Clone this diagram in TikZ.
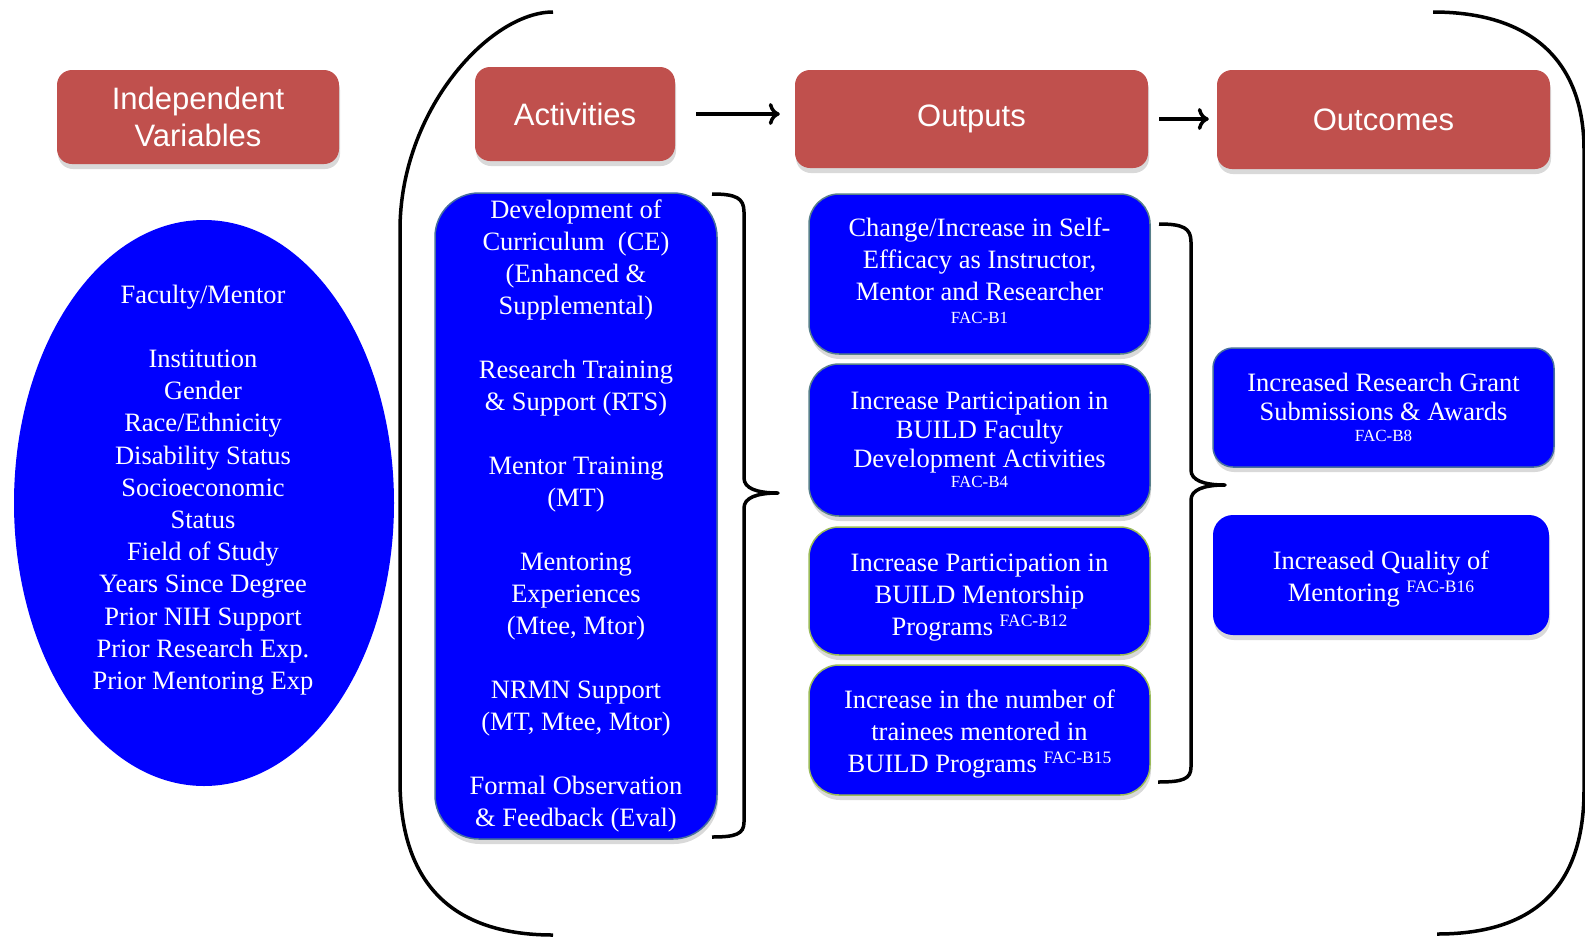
\documentclass[tikz,border=0pt]{standalone}
\usepackage{fontspec}
\setmainfont{Liberation Serif}
\newfontfamily\headfont{Liberation Sans}
\usepackage{xcolor}
\usepackage{tikz}
\usetikzlibrary{arrows,arrows.meta,shapes.geometric,shadows}

\definecolor{headred}{RGB}{192,80,77}
\definecolor{boxblue}{RGB}{0,0,255}
\definecolor{steeledge}{RGB}{72,112,158}
\definecolor{tealedge}{RGB}{88,128,138}
\definecolor{olivedge}{RGB}{155,187,89}

\newcommand{\facsup}[1]{\smash{\raisebox{9pt}{\fontsize{17.5}{17}\selectfont #1}}}
\newcommand{\facline}[1]{{\fontsize{17}{17}\selectfont #1}}
\newcommand{\padtop}[1]{\rule{0pt}{#1}}

\begin{document}
\begin{tikzpicture}[x=1pt,y=-1pt,
    head/.style={fill=headred, rounded corners=15pt, text=white, inner sep=0pt, align=center,
        font=\headfont\fontsize{31}{37}\selectfont,
        drop shadow={opacity=0.3, shadow xshift=1pt, shadow yshift=-5pt}},
    box/.style={fill=boxblue, line width=1.5pt, rounded corners=30pt, text=white, inner sep=0pt, align=center,
        font=\fontsize{26.5}{32}\selectfont,
        drop shadow={opacity=0.3, shadow xshift=1pt, shadow yshift=-5pt}},
    ivell/.style={ellipse, fill=boxblue, inner sep=0pt},
    arr/.style={-{To[length=11pt,width=22pt]}, line width=3.5pt},
    paren/.style={line width=3.5pt},
    brace/.style={line width=3.5pt, line join=round}
]
    \useasboundingbox (0,0) rectangle (1585,938);

    % header row
    \node[head, minimum width=282, minimum height=94] (ivh) at (198,117) {Independent\\Variables};
    \node[head, minimum width=200, minimum height=94] (acth) at (575,114) {Activities};
    \node[head, minimum width=353, minimum height=98] (outh) at (971.5,119) {Outputs};
    \node[head, minimum width=333, minimum height=99] (outch) at (1383.5,119.5) {Outcomes};

    \draw[arr, shorten <=21pt, shorten >=15pt] (acth.east) -- (acth.east -| outh.west);
    \draw[arr, shorten <=11pt, shorten >=8pt] (outh.east) -- (outh.east -| outch.west);

    % independent variables
    \node[ivell, minimum width=380, minimum height=566] (iv) at (204,503) {};
    \node[text=white, align=center, font=\fontsize{26.5}{32.2}\selectfont] (ivt) at (203,490)
        {Faculty/Mentor\\[32pt]Institution\\Gender\\Race/Ethnicity\\Disability Status\\Socioeconomic\\Status\\Field of Study\\Years Since Degree\\Prior NIH Support\\Prior Research Exp.\\Prior Mentoring Exp};

    % activities
    \node[box, draw=steeledge, rounded corners=44pt, minimum width=282, minimum height=646] (a) at (576,516)
        {Development of\\Curriculum~ (CE)\\(Enhanced \&\\Supplemental)\\[32pt]
         Research Training\\\& Support (RTS)\\[32pt]
         Mentor Training\\(MT)\\[32pt]
         Mentoring\\Experiences\\(Mtee, Mtor)\\[32pt]
         NRMN Support\\(MT, Mtee, Mtor)\\[32pt]
         Formal Observation\\\& Feedback (Eval)};

    % outputs
    \node[box, draw=tealedge, minimum width=341, minimum height=160] (o1) at (979.5,274)
        {Change/Increase in Self-\\Efficacy as Instructor,\\Mentor and Researcher\\[-9pt]\facline{FAC-B1}\rule[-7pt]{0pt}{0pt}};
    \node[box, draw=tealedge, minimum width=341, minimum height=152, font=\fontsize{26.5}{29}\selectfont] (o2) at (979.5,440)
        {Increase Participation in\\BUILD Faculty\\Development Activities\\[-9pt]\facline{FAC-B4}};
    \node[box, draw=olivedge, minimum width=341, minimum height=128] (o3) at (979.5,591)
        {\padtop{30pt}Increase Participation in\\BUILD Mentorship\\Programs \facsup{FAC-B12}};
    \node[box, draw=olivedge, minimum width=341, minimum height=130] (o4) at (979.5,730)
        {\padtop{26pt}Increase in the number of\\trainees mentored in\\BUILD Programs \facsup{FAC-B15}};

    % outcomes
    \node[box, draw=steeledge, rounded corners=20pt, minimum width=341, minimum height=119, font=\fontsize{26.5}{29}\selectfont] (r1) at (1383.5,407.5)
        {Increased Research Grant\\Submissions \& Awards\\[-8pt]\facline{FAC-B8}};
    \node[box, draw=none, rounded corners=20pt, minimum width=336, minimum height=120] (r2) at (1381,575)
        {\padtop{26pt}Increased Quality of\\Mentoring \facsup{FAC-B16}};

    % braces
    \draw[brace] (712,194) .. controls (736,194) and (744,198) .. (744,212) -- (744,478)
        .. controls (744,488) and (756,493) .. (778,493)
        .. controls (756,493) and (744,498) .. (744,508) -- (744,822)
        .. controls (744,834) and (736,837) .. (712,837);
    \draw[brace] (1159,224) .. controls (1183,224) and (1191,228) .. (1191,242) -- (1191,470)
        .. controls (1191,480) and (1203,485) .. (1225,485)
        .. controls (1203,485) and (1191,490) .. (1191,500) -- (1191,767)
        .. controls (1191,779) and (1183,782) .. (1158,782);

    % big parentheses
    \draw[paren] (553,12) .. controls (490,12) and (400,110) .. (400,230) -- (400,780)
        .. controls (400,900) and (470,935) .. (553,935);
    \draw[paren] (1433,12) .. controls (1530,12) and (1584,60) .. (1584,150) -- (1584,790)
        .. controls (1584,900) and (1520,934) .. (1437,934);
\end{tikzpicture}
\end{document}
